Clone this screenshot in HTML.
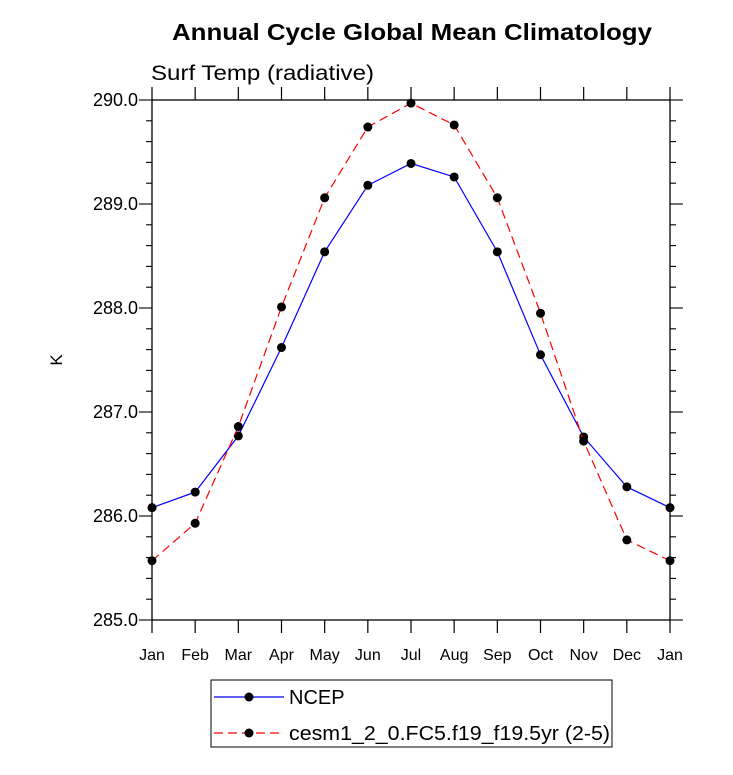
<!DOCTYPE html>
<html><head><meta charset="utf-8"><style>body{margin:0;background:#fff}svg text{font-family:"Liberation Sans",sans-serif}</style></head>
<body>
<svg width="733" height="770" id="c">
<text x="412" y="40" text-anchor="middle" font-size="23" font-weight="bold" textLength="480" lengthAdjust="spacingAndGlyphs">Annual Cycle Global Mean Climatology</text>
<text x="151" y="80" font-size="21" textLength="223" lengthAdjust="spacingAndGlyphs">Surf Temp (radiative)</text>
<text x="0" y="0" font-size="17" transform="translate(62,360) rotate(-90)" text-anchor="middle">K</text>
<g id="ax"></g>
<g id="series"></g>
<g>
<rect x="211" y="680" width="401" height="67" fill="none" stroke="#000" stroke-width="1"/>
<line x1="214" y1="697" x2="284" y2="697" stroke="#00f" stroke-width="1.2"/>
<circle cx="249" cy="697" r="4.5" fill="#000"/>
<text x="289" y="704" font-size="20">NCEP</text>
<line x1="214" y1="733" x2="284" y2="733" stroke="#f00" stroke-width="1.2" stroke-dasharray="9,5"/>
<circle cx="249" cy="733" r="4.5" fill="#000"/>
<text x="289" y="740" font-size="20" textLength="321" lengthAdjust="spacingAndGlyphs">cesm1_2_0.FC5.f19_f19.5yr (2-5)</text>
</g>
</svg>
<script>
const months=["Jan","Feb","Mar","Apr","May","Jun","Jul","Aug","Sep","Oct","Nov","Dec","Jan"];
const ncep=[286.08,286.23,286.77,287.62,288.54,289.18,289.39,289.26,288.54,287.55,286.76,286.28,286.08];
const cesm=[285.57,285.93,286.86,288.01,289.06,289.74,289.97,289.76,289.06,287.95,286.72,285.77,285.57];
const yTicks=["285.0","286.0","287.0","288.0","289.0","290.0"];
const L=152,R=670,T=100,B=620,yMin=285,yMax=290;
const xs=i=>L+(R-L)*i/12, ys=v=>B-(v-yMin)/(yMax-yMin)*(B-T);
const NS="http://www.w3.org/2000/svg";
function mk(t,a,p){const e=document.createElementNS(NS,t);for(const k in a)e.setAttribute(k,a[k]);p.appendChild(e);return e;}
const ax=document.getElementById('ax');
const fr=mk('rect',{x:L,y:T,width:R-L,height:B-T,fill:'none',stroke:'#000','stroke-width':1.3},ax);


months.forEach((m,i)=>{const x=xs(i);
mk('line',{x1:x,y1:B,x2:x,y2:B+13,stroke:'#000','stroke-width':1.2},ax);
mk('line',{x1:x,y1:T,x2:x,y2:T-13,stroke:'#000','stroke-width':1.2},ax);
const t=mk('text',{x:x,y:B+40,'text-anchor':'middle','font-size':16},ax);t.textContent=m;

});
for(let k=0;k<=25;k++){const v=yMin+k*0.2,y=ys(v),maj=k%5==0,len=maj?13:6;
mk('line',{x1:L,y1:y,x2:L-len,y2:y,stroke:'#000','stroke-width':1.1},ax);
mk('line',{x1:R,y1:y,x2:R+len,y2:y,stroke:'#000','stroke-width':1.1},ax);}
yTicks.forEach(s=>{const t=mk('text',{x:L-14,y:ys(parseFloat(s))+6,'text-anchor':'end','font-size':18},ax);t.textContent=s;

});
const sg=document.getElementById('series');
function draw(d,col,dash,name){const g=mk('g',{},sg);


mk('polyline',{points:d.map((v,i)=>xs(i)+','+ys(v)).join(' '),fill:'none',stroke:col,'stroke-width':1.2,'stroke-dasharray':dash},g);
d.forEach((v,i)=>{const c=mk('circle',{cx:xs(i),cy:ys(v),r:4.5,fill:'#000'},g);

});}
draw(ncep,'#00f','none','ncep-series');
draw(cesm,'#f00','9,5','cesm-series');
</script>
</body></html>
